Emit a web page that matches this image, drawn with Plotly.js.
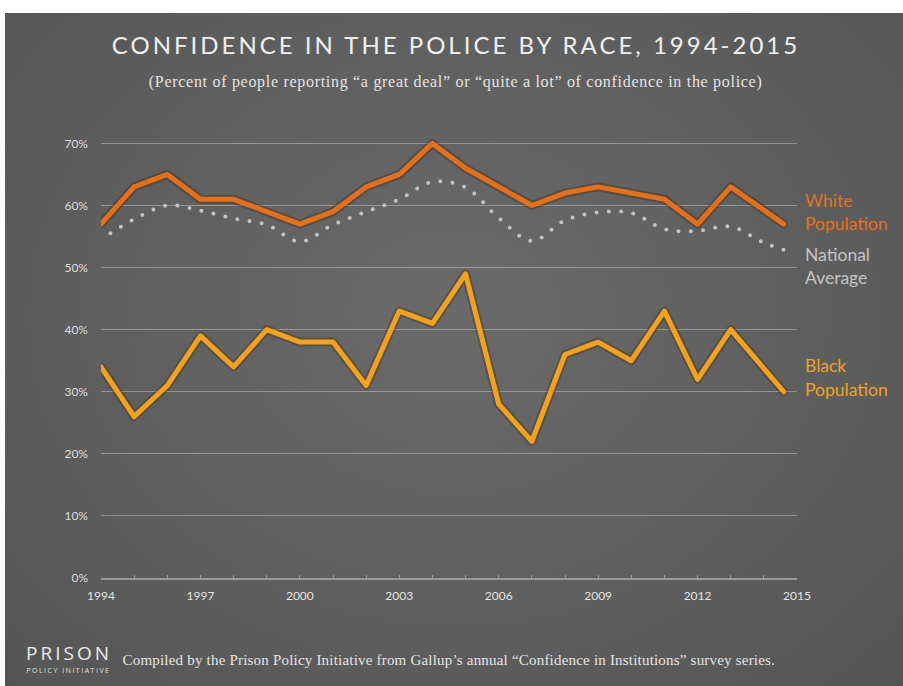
<!DOCTYPE html>
<html>
<head>
<meta charset="utf-8">
<script src="https://cdn.plot.ly/plotly-3.0.1.min.js"></script>
<style>
  html, body { margin: 0; padding: 0; background: #ffffff; }
  #bg { position: absolute; left: 5px; top: 13px; width: 898px; height: 673px;
        background: radial-gradient(ellipse at 50% 45%, #6a6a6a 0%, #616161 45%, #555555 100%); }
  #chart { position: absolute; left: 0; top: 0; width: 903px; height: 686px; }
  .gtitle { letter-spacing: 3px; }
  .scatterlayer .js-line { stroke-linecap: round; stroke-linejoin: round; }
  .scatterlayer .trace:nth-child(3) .js-line { stroke-dashoffset: 1px; }
  .annotation[data-index="6"] text { letter-spacing: 3px; }
  .annotation[data-index="7"] text { letter-spacing: 1.5px; }
  .annotation[data-index="8"] text { letter-spacing: 0.2px; }
  .annotation[data-index="9"] text { letter-spacing: 0.7px; }
</style>
</head>
<body>
<div id="bg"></div>
<div id="chart"></div>
<script>
// ---- data ----
const years = [1994,1995,1996,1997,1998,1999,2000,2001,2002,2003,2004,2005,2006,2007,2008,2009,2010,2011,2012,2013,2014.6];
const whitePop = [57,63,65,61,61,59,57,59,63,65,70,66,63,60,62,63,62,61,57,63,57];
const blackPop = [34,26,31,39,34,40,38,38,31,43,41,49,28,22,36,38,35,43,32,40,30];
const natYears = [1994,1995,1996,1997,1998,1999,2000,2001,2002,2003,2004,2005,2006,2007,2008,2009,2010,2011,2012,2013,2014,2014.7];
const natAvg = [54.5,57.8,60,59.2,57.9,56.9,54.2,56.9,59,61,63.8,62.9,58,54.3,57.6,58.9,58.8,56.2,55.9,56.6,54,52.7];
const yTicks = [0,10,20,30,40,50,60,70];
const xTicks = [1994,1997,2000,2003,2006,2009,2012,2015];

const titleText = 'CONFIDENCE IN THE POLICE BY RACE, 1994-2015';
const subtitleText = '(Percent of people reporting \u201ca great deal\u201d or \u201cquite a lot\u201d of confidence in the police)';
const sourceText = 'Compiled by the Prison Policy Initiative from Gallup\u2019s annual \u201cConfidence in Institutions\u201d survey series.';

// ---- colours ----
const cWhite = '#e2701e';
const cBlack = '#f2a222';
const cNat = '#c4c4c4';

// ---- geometry helpers (pixel -> paper) ----
const W = 903, H = 686;
const M = {l: 101, r: 106, t: 131, b: 108};
const PL = M.l, PR = W - M.r, PT = M.t, PB = H - M.b;
const px = x => (x - PL) / (PR - PL);
const py = y => (PB - y) / (PB - PT);

const traces = [
  {x: years, y: whitePop, mode: 'lines', line: {color: 'rgba(70,35,5,0.35)', width: 9}, hoverinfo: 'skip', showlegend: false},
  {x: years, y: blackPop, mode: 'lines', line: {color: 'rgba(70,45,5,0.35)', width: 9}, hoverinfo: 'skip', showlegend: false},
  {x: natYears, y: natAvg, mode: 'lines', name: 'National Average',
   line: {color: cNat, width: 4, dash: '0px,12.3px', shape: 'spline', smoothing: 1}},
  {x: years, y: whitePop, mode: 'lines', name: 'White Population', line: {color: cWhite, width: 5}},
  {x: years, y: blackPop, mode: 'lines', name: 'Black Population', line: {color: cBlack, width: 5}}
];

const labFont = (c) => ({family: 'Lato, sans-serif', size: 17.5, color: c});
const annotations = [
  {xref: 'paper', yref: 'paper', x: px(803), y: py(200), xanchor: 'left', yanchor: 'middle', text: 'White', showarrow: false, font: labFont(cWhite)},
  {xref: 'paper', yref: 'paper', x: px(803), y: py(223), xanchor: 'left', yanchor: 'middle', text: 'Population', showarrow: false, font: labFont(cWhite)},
  {xref: 'paper', yref: 'paper', x: px(803), y: py(254), xanchor: 'left', yanchor: 'middle', text: 'National', showarrow: false, font: labFont(cNat)},
  {xref: 'paper', yref: 'paper', x: px(803), y: py(277), xanchor: 'left', yanchor: 'middle', text: 'Average', showarrow: false, font: labFont(cNat)},
  {xref: 'paper', yref: 'paper', x: px(803), y: py(365), xanchor: 'left', yanchor: 'middle', text: 'Black', showarrow: false, font: labFont(cBlack)},
  {xref: 'paper', yref: 'paper', x: px(803), y: py(389), xanchor: 'left', yanchor: 'middle', text: 'Population', showarrow: false, font: labFont(cBlack)},
  {xref: 'paper', yref: 'paper', x: px(33), y: py(653), xanchor: 'left', yanchor: 'middle', text: 'PRISON', showarrow: false,
   font: {family: 'Open Sans, sans-serif', size: 19, color: '#ececec'}},
  {xref: 'paper', yref: 'paper', x: px(37), y: py(670), xanchor: 'left', yanchor: 'middle', text: 'POLICY INITIATIVE', showarrow: false,
   font: {family: 'Open Sans, sans-serif', size: 7, color: '#e0e0e0'}},
  {xref: 'paper', yref: 'paper', x: px(131), y: py(660), xanchor: 'left', yanchor: 'middle', text: sourceText, showarrow: false,
   font: {family: 'Liberation Serif, serif', size: 15, color: '#e4e4e4'}},
  {xref: 'paper', yref: 'paper', x: px(455), y: py(82), xanchor: 'center', yanchor: 'middle', text: subtitleText, showarrow: false,
   font: {family: 'Liberation Serif, serif', size: 16, color: '#e4e4e4'}}
];

const layout = {
  width: W, height: H,
  margin: M,
  paper_bgcolor: 'rgba(0,0,0,0)',
  plot_bgcolor: 'rgba(0,0,0,0)',
  showlegend: false,
  title: {text: titleText, xref: 'container', yref: 'container', x: 456 / W, y: 1 - 46 / H,
          xanchor: 'center', yanchor: 'middle',
          font: {family: 'Lato, sans-serif', size: 24, color: '#f0f0f0'}},
  xaxis: {
    range: [1994, 2015], tickmode: 'array', tickvals: xTicks, ticktext: xTicks.map(String),
    showgrid: false, zeroline: false, showline: true, linecolor: '#9a9a9a', linewidth: 1.5,
    ticks: 'inside', ticklen: 3, tickcolor: '#9a9a9a', tickwidth: 1,
    minor: {dtick: 1, ticks: 'inside', ticklen: 3, tickcolor: '#9a9a9a', tickwidth: 1, showgrid: false},
    ticklabelstandoff: 6,
    tickfont: {family: 'Lato, sans-serif', size: 12, color: '#e4e4e4'}
  },
  yaxis: {
    range: [0, 72], tickmode: 'array', tickvals: yTicks, ticktext: yTicks.map(v => v + '%'),
    showgrid: true, gridcolor: 'rgba(200,200,200,0.5)', gridwidth: 1,
    zeroline: false, showline: false, ticks: '',
    ticklabelstandoff: 12,
    tickfont: {family: 'Lato, sans-serif', size: 12, color: '#dcdcdc'}
  },
  annotations: annotations
};

Plotly.newPlot('chart', traces, layout, {displayModeBar: false, staticPlot: true});
</script>
</body>
</html>
